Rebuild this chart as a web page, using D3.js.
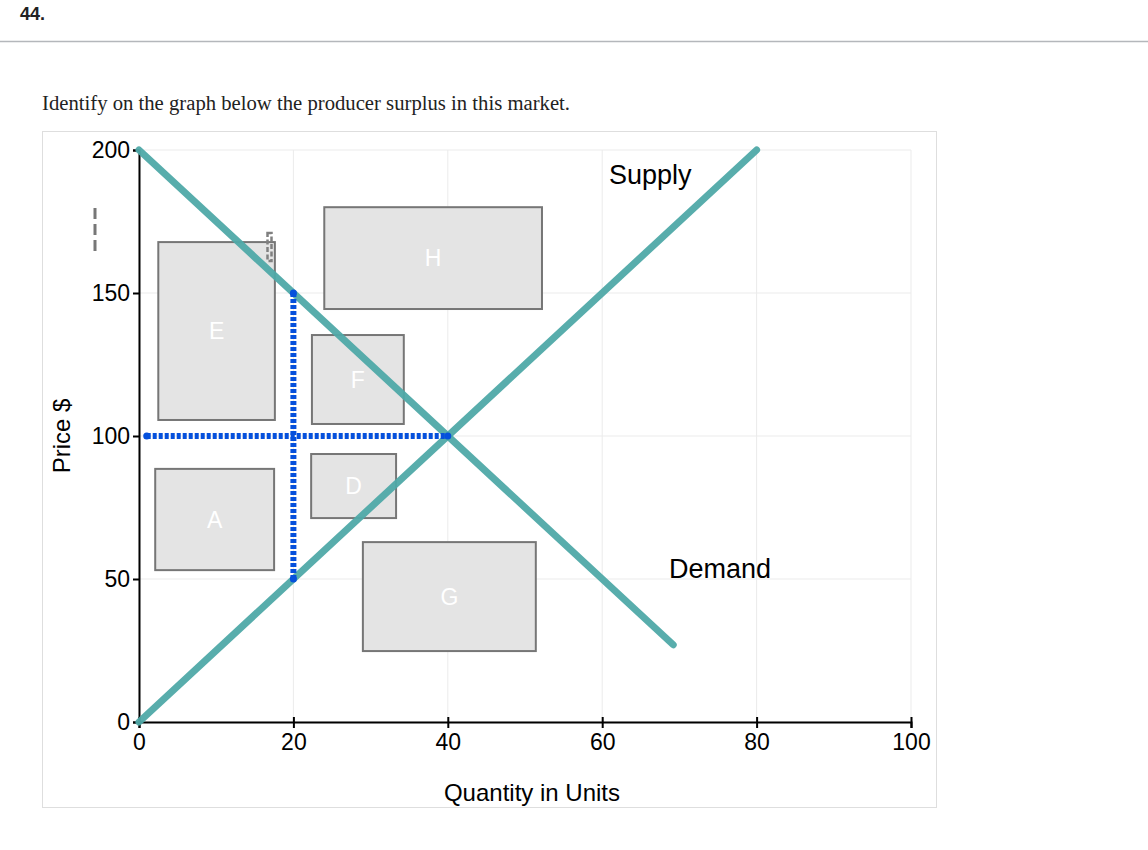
<!DOCTYPE html>
<html>
<head>
    <script src="https://d3js.org/d3.v7.min.js"></script>
    <style>
        body { margin:0; background:white; }
        .grid line { stroke:#ebebeb; stroke-width:1; }
        .axis text { font-family:Arial, "Liberation Sans", sans-serif; font-size:23px; fill:black; }
        .axis path, .axis line { stroke:black; stroke-width:2; }
        .box { fill:#e4e4e4; stroke:#767676; stroke-width:2; }
        .boxlabel { fill:white; font-family:Arial, "Liberation Sans", sans-serif; font-size:23px; text-anchor:middle; dominant-baseline:middle; }
        .curve { stroke:#4fa9a8; stroke-width:7; stroke-linecap:round; fill:none; }
        .guide { stroke:#0550dc; stroke-width:6; stroke-dasharray:4,2; fill:none; }
        .lbl { font-family:Arial, "Liberation Sans", sans-serif; font-size:27px; fill:black; }
    </style>
</head>
<body>
<script>
    // data
    var xTicks = [0, 20, 40, 60, 80, 100];
    var yTicks = [0, 50, 100, 150, 200];
    var curveNames = ["Supply", "Demand"];
    var supplyPts = [[0, 0], [80, 200]];
    var demandPts = [[0, 200], [69.2, 27]];
    var guideLines = [[[1, 100], [40, 100]], [[20, 50], [20, 150]]];
    var boxLabels = ["E", "H", "F", "D", "A", "G"];
    var boxX0 = [2.5, 24, 22.4, 22.3, 2.1, 29];
    var boxX1 = [17.6, 52.2, 34.3, 33.3, 17.5, 51.4];
    var boxY0 = [105.6, 144.4, 104.2, 71.3, 53.1, 24.8];
    var boxY1 = [167.8, 180, 135.3, 93.7, 88.5, 62.9];

    var svg = d3.select("body").append("svg").attr("width", 1148).attr("height", 850);

    svg.append("text").text("44.").attr("x", 20).attr("y", 20)
        .style("font-family", "Arial, 'Liberation Sans', sans-serif").style("font-weight", "bold").style("font-size", "18px")
        .style("fill", "#222");
    svg.append("line").attr("x1", 0).attr("x2", 1148).attr("y1", 41.5).attr("y2", 41.5)
        .attr("stroke", "#b4b7bb").attr("stroke-width", 1.5);
    svg.append("text").text("Identify on the graph below the producer surplus in this market.")
        .attr("x", 42).attr("y", 110)
        .style("font-family", "'Liberation Serif', 'DejaVu Serif', serif").style("font-size", "20px").style("fill", "#222")
        .attr("textLength", 528).attr("lengthAdjust", "spacingAndGlyphs");

    svg.append("rect").attr("x", 42.5).attr("y", 131.5).attr("width", 894).attr("height", 676)
        .attr("fill", "white").attr("stroke", "#dedede");

    var x = d3.scaleLinear().domain([0, 100]).range([139, 911]);
    var y = d3.scaleLinear().domain([0, 200]).range([722, 150]);

    // grid
    var grid = svg.append("g").attr("class", "grid");
    grid.selectAll(".gx").data(xTicks).enter().append("line")
        .attr("x1", function(d){ return x(d); }).attr("x2", function(d){ return x(d); })
        .attr("y1", y(0)).attr("y2", y(200));
    grid.selectAll(".gy").data(yTicks).enter().append("line")
        .attr("y1", function(d){ return y(d); }).attr("y2", function(d){ return y(d); })
        .attr("x1", x(0)).attr("x2", x(100));

    // axes
    svg.append("g").attr("class", "axis").attr("transform", "translate(0," + y(0) + ")")
        .call(d3.axisBottom(x).tickValues(xTicks).tickSizeOuter(0).tickSize(6).tickPadding(6))
        .selectAll(".tick line").attr("y1", -5);
    svg.append("g").attr("class", "axis").attr("transform", "translate(" + x(0) + ",0)")
        .call(d3.axisLeft(y).tickValues(yTicks).tickSizeOuter(0).tickSize(6).tickPadding(3));

    svg.append("text").attr("class", "lbl").text("Quantity in Units")
        .attr("x", 532).attr("y", 801).attr("text-anchor", "middle").style("font-size", "24px");
    svg.append("text").attr("class", "lbl").text("Price $")
        .attr("transform", "translate(70,436) rotate(-90)").attr("text-anchor", "middle").style("font-size", "24px");

    // boxes
    var boxes = svg.append("g").selectAll("g").data(boxLabels).enter().append("g");
    boxes.append("rect").attr("class", "box")
        .attr("x", function(d, i){ return x(boxX0[i]); })
        .attr("y", function(d, i){ return y(boxY1[i]); })
        .attr("width", function(d, i){ return x(boxX1[i]) - x(boxX0[i]); })
        .attr("height", function(d, i){ return y(boxY0[i]) - y(boxY1[i]); });
    boxes.append("text").attr("class", "boxlabel").text(function(d){ return d; })
        .attr("x", function(d, i){ return (x(boxX0[i]) + x(boxX1[i])) / 2; })
        .attr("y", function(d, i){ return (y(boxY0[i]) + y(boxY1[i])) / 2 + 2; });

    // odd dashed marks
    svg.append("line").attr("x1", 95).attr("x2", 95).attr("y1", 208).attr("y2", 252)
        .attr("stroke", "#777").attr("stroke-width", 3).attr("stroke-dasharray", "11,5");
    svg.append("rect").attr("x", 267.5).attr("y", 233).attr("width", 4).attr("height", 28)
        .attr("fill", "none").attr("stroke", "#808080").attr("stroke-width", 2.5).attr("stroke-dasharray", "5,2.5");

    var line = d3.line().x(function(d){ return x(d[0]); }).y(function(d){ return y(d[1]); });

    // curves
    svg.append("g").selectAll("path").data([supplyPts, demandPts]).enter().append("path")
        .attr("class", "curve").attr("d", line).style("opacity", 0.95);

    // guides (on top of curves)
    svg.append("g").selectAll("path").data(guideLines).enter().append("path")
        .attr("class", "guide").attr("d", line);
    svg.append("g").selectAll("circle").data([guideLines[0][0], guideLines[1][0], guideLines[1][1], guideLines[0][1]])
        .enter().append("circle").attr("r", 3.5).attr("fill", "#0550dc")
        .attr("cx", function(d){ return x(d[0]); }).attr("cy", function(d){ return y(d[1]); });

    svg.append("text").attr("class", "lbl").text(curveNames[0]).attr("x", 609).attr("y", 184);
    svg.append("text").attr("class", "lbl").text(curveNames[1]).attr("x", 669).attr("y", 578);
</script>
</body>
</html>
